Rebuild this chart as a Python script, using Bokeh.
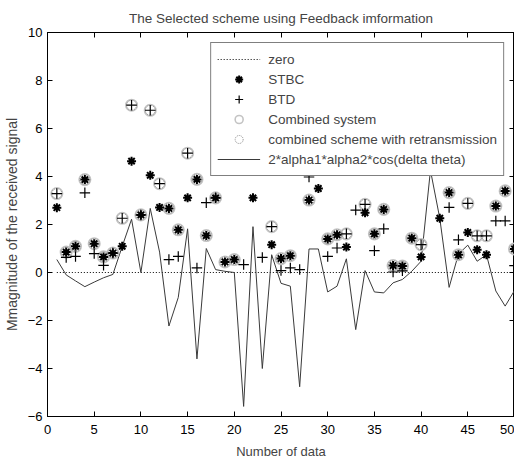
import numpy as np
from bokeh.plotting import figure
from bokeh.models import Range1d, FixedTicker, LinearAxis, Legend, LegendItem
from bokeh.embed import file_html
from bokeh.resources import INLINE

nan = float("nan")

# ---- data ----
x_data = list(range(1, 51))
zero = [0.0] * 50
stbc = [2.70, 0.85, 1.09, 3.87, 1.20, 0.65, 0.81, 1.09, 4.64, 2.40,
        4.05, 2.71, 2.67, 1.78, 3.11, 3.88, 1.54, 3.11, 0.44, 0.54,
        nan, 3.11, nan, 1.16, 0.58, 0.70, nan, 3.02, 3.50, 1.40,
        1.57, 1.06, nan, 2.49, 1.61, 2.63, 0.29, 0.27, 1.43, 0.65,
        nan, 2.26, 3.33, 0.74, 1.67, 0.95, 0.74, 2.77, 3.40, 0.98]
btd = [3.29, 0.63, 0.67, 3.32, 0.79, 0.30, 0.81, 2.26, 6.97, 2.40,
       6.76, 3.70, 0.54, 0.67, 4.97, 0.19, 2.91, 3.11, nan, nan,
       0.33, nan, 0.63, 1.91, 0.08, 0.19, 0.12, 3.98, nan, 0.67,
       1.02, 1.61, 2.60, 2.84, 0.91, 1.82, 0.02, 0.07, nan, 1.16,
       nan, nan, 2.71, 1.36, 2.88, 1.53, 1.53, 2.15, 2.15, 0.29]
combined = [3.29, 0.85, 1.09, 3.87, 1.20, 0.65, 0.81, 2.26, 6.97, 2.40,
            6.76, 3.70, 2.67, 1.78, 4.97, 3.88, 1.54, 3.11, 0.44, 0.54,
            nan, nan, nan, 1.91, 0.58, 0.70, nan, 3.02, nan, 1.40,
            1.57, 1.61, nan, 2.84, 1.61, 2.63, 0.29, 0.27, 1.43, 1.16,
            nan, nan, 3.33, 0.74, 2.88, 1.53, 1.53, 2.77, 3.40, 0.98]
retrans = [3.29, 0.85, 1.09, 3.87, 1.20, 0.65, 0.81, 2.26, 6.97, 2.40,
           6.76, 3.70, 2.67, 1.78, 4.97, 3.88, 1.54, 3.11, 0.44, 0.54,
           nan, nan, nan, 1.91, 0.58, 0.70, nan, 3.02, nan, 1.40,
           1.57, 1.61, nan, 2.84, 1.61, 2.63, 0.29, 0.27, 1.43, 1.16,
           nan, nan, 3.33, 0.74, 2.88, 1.53, 1.53, 2.77, 3.40, 0.98]
signal = [0.54, -0.10, -0.35, -0.59, -0.40, -0.22, -0.08, 1.09, 2.22, 0.00,
          2.67, 0.85, -2.23, -1.04, 1.82, -3.60, 1.00, 0.12, 0.05, 0.00,
          -5.58, 1.91, -4.00, 0.74, -0.45, -0.57, -4.76, 0.98, 0.98, -0.81,
          -0.57, 0.57, -2.38, 0.08, -0.81, -0.85, -0.43, -0.29, 0.05, 0.47,
          4.26, 2.26, -0.62, 0.77, 1.14, 0.47, 0.74, -0.77, -1.40, -0.75]
x_ticks = [0, 5, 10, 15, 20, 25, 30, 35, 40, 45, 50]
y_ticks = [-6, -4, -2, 0, 2, 4, 6, 8, 10]

labels = ["zero", "STBC", "BTD", "Combined system",
          "combined scheme with retransmission",
          "2*alpha1*alpha2*cos(delta theta)"]

FONT = "Liberation Sans"

p = figure(width=514, height=461, output_backend="svg",
           toolbar_location=None, x_range=Range1d(0, 50), y_range=Range1d(-6, 10),
           title="The Selected scheme using Feedback imformation",
           min_border_left=41, min_border_right=0, min_border_top=32,
           min_border_bottom=44)
p.title.text_font = FONT
p.title.text_font_size = "13.5px"
p.title.text_font_style = "normal"
p.title.align = "center"
p.title.vertical_align = "top"
p.title.standoff = 10
p.grid.visible = False
p.outline_line_color = "black"
p.outline_line_alpha = 1.0
p.background_fill_color = "white"
p.border_fill_color = "white"

for ax in (p.xaxis[0], p.yaxis[0]):
    ax.major_label_text_font = FONT
    ax.major_label_text_color = "black"
    ax.axis_label_text_font = FONT
    ax.axis_label_text_font_style = "normal"
    ax.major_tick_in = 5
    ax.major_tick_out = 0
    ax.minor_tick_line_color = None
    ax.axis_line_color = "black"
    ax.major_tick_line_color = "black"

p.xaxis[0].major_label_text_font_size = "13px"
p.yaxis[0].major_label_text_font_size = "13px"
p.xaxis[0].axis_label_text_font_size = "13px"
p.yaxis[0].axis_label_text_font_size = "14px"
p.xaxis[0].ticker = FixedTicker(ticks=x_ticks)
p.yaxis[0].ticker = FixedTicker(ticks=y_ticks)
p.xaxis[0].axis_label = "Number of data"
p.yaxis[0].axis_label = "Mmagnitude of the received signal"
p.xaxis[0].major_label_standoff = 8
p.xaxis[0].axis_label_standoff = 7
p.yaxis[0].major_label_standoff = 5
p.yaxis[0].axis_label_standoff = 5

# mirrored ticks on top and right (labels left empty)
top = LinearAxis(ticker=FixedTicker(ticks=x_ticks), major_tick_in=5, major_tick_out=0,
                 minor_tick_line_color=None, major_label_text_color=None,
                 major_label_overrides={t: "" for t in x_ticks},
                 major_label_text_font_size="0px", axis_label_text_font_size="0px",
                 major_label_standoff=0, axis_label_standoff=0, axis_line_color="black")
right = LinearAxis(ticker=FixedTicker(ticks=y_ticks), major_tick_in=5, major_tick_out=0,
                   minor_tick_line_color=None, major_label_text_color=None,
                   major_label_overrides={t: "" for t in y_ticks},
                   major_label_text_font_size="0px", axis_label_text_font_size="0px",
                   major_label_standoff=0, axis_label_standoff=0, axis_line_color="black")
p.add_layout(top, "above")
p.add_layout(right, "right")

xa = np.array(x_data, dtype=float)
r_zero = p.line(xa, np.array(zero), line_color="black", line_dash="1 2", line_width=1)
r_sig = p.line(xa, np.array(signal), line_color="#3a3a3a", line_width=1)
r_comb = p.scatter(xa, np.array(combined, dtype=float), marker="circle", size=11.5,
                   fill_color=None, line_color="#c4c4c4", line_width=1.6)
r_ret = p.scatter(xa, np.array(retrans, dtype=float), marker="circle", size=10,
                  fill_color=None, line_color="#8a8a8a", line_dash="1 1", line_width=1)
r_stbc = p.scatter(xa, np.array(stbc, dtype=float), marker="asterisk", size=9,
                   line_color="black", line_width=2)
r_btd = p.scatter(xa, np.array(btd, dtype=float), marker="cross", size=10.5,
                  line_color="black", line_width=1.2)

legend = Legend(items=[
    LegendItem(label=labels[0], renderers=[r_zero]),
    LegendItem(label=labels[1], renderers=[r_stbc]),
    LegendItem(label=labels[2], renderers=[r_btd]),
    LegendItem(label=labels[3], renderers=[r_comb]),
    LegendItem(label=labels[4], renderers=[r_ret]),
    LegendItem(label=labels[5], renderers=[r_sig]),
], location="top_right")
legend.label_text_font = FONT
legend.label_text_font_size = "13.5px"
legend.glyph_width = 43
legend.glyph_height = 20
legend.label_height = 20
legend.label_standoff = 8
legend.padding = 6
legend.spacing = 0
legend.margin = 10
legend.border_line_color = "black"
legend.border_line_width = 1
legend.background_fill_alpha = 1.0
p.add_layout(legend, "center")

open("out.html", "w").write(file_html(p, INLINE))
